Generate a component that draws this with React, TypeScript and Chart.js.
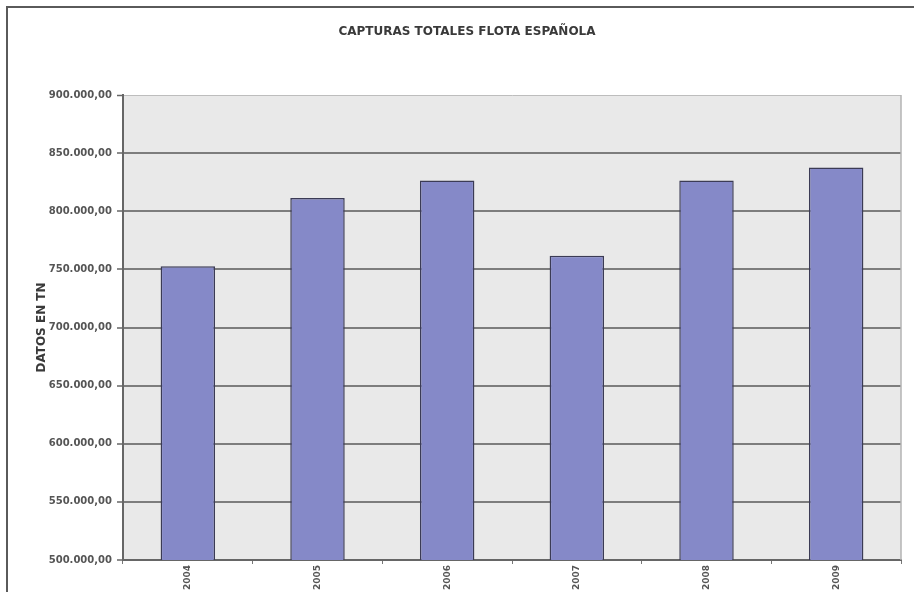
import React, { useEffect, useRef } from "react";
import { Chart, registerables } from "chart.js";

Chart.register(...registerables);

const TITLE = "CAPTURAS TOTALES FLOTA ESPAÑOLA";
const Y_TITLE = "DATOS EN TN";
const YEARS = ["2004", "2005", "2006", "2007", "2008", "2009"];
const CAPTURAS = [752600, 811500, 826400, 761800, 826400, 837600];
const Y_MIN = 500000;
const Y_MAX = 900000;
const Y_STEP = 50000;

function fmt(v: number): string {
  const s = Math.round(v).toString();
  return s.replace(/\B(?=(\d{3})+(?!\d))/g, ".") + ",00";
}

const decorPlugin = {
  id: "decor",
  beforeDraw(chart: any) {
    const { ctx, chartArea, width, height } = chart;
    ctx.save();
    ctx.fillStyle = "#ffffff";
    ctx.fillRect(0, 0, width, height);
    ctx.fillStyle = "#e9e9e9";
    ctx.fillRect(chartArea.left, chartArea.top, chartArea.right - chartArea.left, chartArea.bottom - chartArea.top);
    ctx.restore();
  },
  beforeDatasetsDraw(chart: any) {
    const { ctx, chartArea } = chart;
    ctx.save();
    ctx.strokeStyle = "#b3b3b3";
    ctx.lineWidth = 1.5;
    ctx.beginPath();
    ctx.moveTo(chartArea.right, chartArea.top);
    ctx.lineTo(chartArea.right, chartArea.bottom);
    ctx.stroke();
    ctx.restore();
  },
  afterDraw(chart: any) {
    const { ctx, width, height } = chart;
    ctx.save();
    ctx.strokeStyle = "#5a5a5a";
    ctx.lineWidth = 2;
    ctx.beginPath();
    ctx.moveTo(7, height + 5);
    ctx.lineTo(7, 7);
    ctx.lineTo(width + 5, 7);
    ctx.stroke();
    ctx.fillStyle = "#3a3a3a";
    ctx.font = "bold 12px 'DejaVu Sans'";
    ctx.textAlign = "center";
    ctx.textBaseline = "middle";
    ctx.fillText(TITLE, 467, 32);
    ctx.restore();
  },
};

export default function App() {
  const ref = useRef<HTMLCanvasElement | null>(null);
  useEffect(() => {
    if (!ref.current) return;
    const chart = new Chart(ref.current, {
      type: "bar",
      data: {
        labels: YEARS,
        datasets: [
          {
            label: "Capturas",
            data: CAPTURAS,
            backgroundColor: "#8589c8",
            borderColor: "#3b3b55",
            borderWidth: 1.5,
            barPercentage: 0.42,
            categoryPercentage: 1,
          },
        ],
      },
      options: {
        responsive: false,
        animation: false,
        layout: { padding: { top: 95, right: 13, left: 0, bottom: 0 } },
        plugins: {
          legend: { display: false },
          title: { display: false },
          tooltip: { enabled: false },
        },
        scales: {
          x: {
            offset: true,
            grid: {
              offset: true,
              drawOnChartArea: false,
              drawTicks: true,
              tickLength: 4,
              color: "#777777",
            },
            border: { display: true, color: "#666666", width: 2 },
            ticks: {
              autoSkip: false,
              maxRotation: 90,
              minRotation: 90,
              padding: 1,
              color: "#555555",
              font: { family: "'DejaVu Sans'", size: 9, weight: "bold" },
            },
            afterFit(scale: any) {
              scale.height = 32;
            },
          },
          y: {
            min: Y_MIN,
            max: Y_MAX,
            ticks: {
              stepSize: Y_STEP,
              padding: 5,
              color: "#555555",
              font: { family: "'DejaVu Sans'", size: 10, weight: "bold" },
              callback: (v: any) => fmt(Number(v)),
            },
            grid: {
              color: (c: any) => (c.tick && c.tick.value === Y_MAX ? "#bdbdbd" : "#7d7d7d"),
              lineWidth: (c: any) => (c.tick && c.tick.value === Y_MAX ? 1 : 2),
              tickColor: "#666666",
              tickWidth: 1.5,
              tickLength: 6,
              drawTicks: true,
            },
            border: { display: true, color: "#666666", width: 2 },
            title: {
              display: true,
              text: Y_TITLE,
              color: "#3a3a3a",
              font: { family: "'DejaVu Sans'", size: 12, weight: "bold" },
              padding: { top: 35, bottom: 0 },
            },
            afterFit(scale: any) {
              scale.width = 123;
            },
          },
        },
      },
      plugins: [decorPlugin],
    });
    return () => chart.destroy();
  }, []);
  return (
    <div style={{ position: "fixed", left: 0, top: 0, width: 914, height: 592 }}>
      <canvas ref={ref} width={914} height={592} style={{ width: 914, height: 592 }} />
    </div>
  );
}
